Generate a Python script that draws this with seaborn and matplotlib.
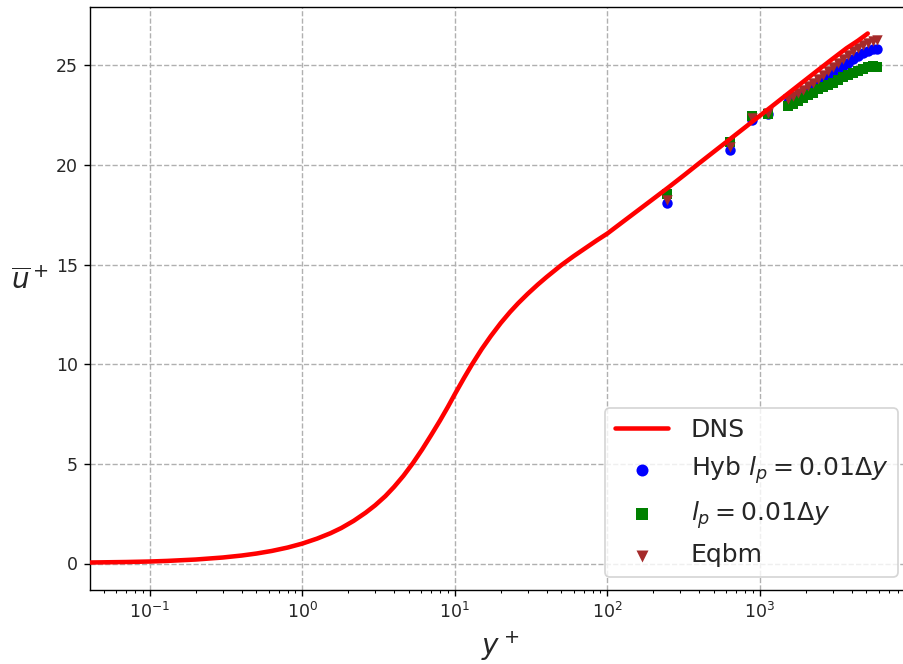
import numpy as np
import pandas as pd
import matplotlib
matplotlib.use("Agg")
import matplotlib.pyplot as plt
import seaborn as sns

# DNS mean velocity profile
dns_yplus = [0.0405, 0.07, 0.1, 0.13, 0.2, 0.3, 0.4, 0.5, 0.63, 0.8, 1.0, 1.25, 1.53,
             1.8, 2.17, 2.6, 3.0, 3.5, 4.0, 4.6, 5.3, 6.1, 7.0, 8.0, 9.0, 10.0, 11.5,
             13.0, 15.0, 17.2, 20.0, 23.0, 26.0, 30.0, 35.0, 40.0, 50.0, 60.0, 70.0,
             85.0, 100.0, 130.0, 160.0, 200.0, 250.0, 320.0, 400.0, 500.0, 640.0,
             800.0, 1000.0, 1500.0, 2000.0, 2500.0, 3000.0, 3700.0, 4400.0, 5100.0]
dns_uplus = [0.05, 0.075, 0.1, 0.13, 0.2, 0.3, 0.4, 0.5, 0.63, 0.8, 1.0, 1.25, 1.52,
             1.78, 2.14, 2.55, 2.92, 3.38, 3.85, 4.4, 5.03, 5.72, 6.45, 7.18, 7.86,
             8.5, 9.32, 10.01, 10.76, 11.41, 12.07, 12.62, 13.06, 13.53, 14.0, 14.38,
             14.98, 15.42, 15.77, 16.21, 16.56, 17.22, 17.74, 18.3, 18.86, 19.5,
             20.09, 20.67, 21.31, 21.89, 22.47, 23.53, 24.28, 24.86, 25.33, 25.86,
             26.24, 26.6]

# LES sample locations
les_yplus = [248, 640, 883, 1135, 1520, 1640, 1770, 1910, 2060, 2220, 2400, 2590,
             2790, 3010, 3250, 3510, 3780, 4080, 4400, 4750, 5120, 5520, 5870]
hyb_uplus = [18.09, 20.77, 22.24, 22.58, 23.15, 23.3, 23.45, 23.6, 23.8, 23.95,
             24.15, 24.3, 24.45, 24.6, 24.8, 24.95, 25.1, 25.3, 25.45, 25.6, 25.7,
             25.8, 25.82]
lp_uplus = [18.56, 21.15, 22.44, 22.58, 22.98, 23.05, 23.2, 23.35, 23.5, 23.6,
            23.8, 23.9, 24.0, 24.1, 24.25, 24.4, 24.5, 24.6, 24.72, 24.82, 24.9,
            24.95, 24.93]
eqbm_uplus = [18.22, 20.9, 22.38, 22.61, 23.3, 23.45, 23.6, 23.75, 23.95, 24.1,
              24.3, 24.5, 24.7, 24.9, 25.1, 25.3, 25.5, 25.7, 25.85, 26.0, 26.1,
              26.2, 26.25]

legend_labels = ["DNS", r"Hyb $l_p = 0.01\Delta y$", r"$l_p = 0.01\Delta y$", "Eqbm"]

sns.set_style("ticks")
plt.rcParams['font.family'] = ['DejaVu Sans']

fig = plt.figure(figsize=(903 / 125, 664 / 125), dpi=125)
ax = fig.add_axes([90 / 903, (664 - 590) / 664, (911 - 90) / 903, (590 - 7) / 664])

dns_df = pd.DataFrame({"y": dns_yplus, "u": dns_uplus})
les_df = pd.DataFrame({"y": les_yplus, "hyb": hyb_uplus, "lp": lp_uplus, "eq": eqbm_uplus})

sns.lineplot(data=dns_df, x="y", y="u", color="red", lw=2.6, label=legend_labels[0],
             sort=False, estimator=None, ax=ax, zorder=5)
sns.scatterplot(data=les_df, x="y", y="hyb", color="blue", marker="o", s=36,
                linewidth=0, label=legend_labels[1], ax=ax, zorder=2)
sns.scatterplot(data=les_df, x="y", y="lp", color="green", marker="s", s=36,
                linewidth=0, label=legend_labels[2], ax=ax, zorder=3)
sns.scatterplot(data=les_df, x="y", y="eq", color="brown", marker="v", s=36,
                linewidth=0, label=legend_labels[3], ax=ax, zorder=4)

ax.set_xscale("log")
ax.set_xlim(0.0405, 9800)
ax.set_ylim(-1.33, 27.93)
ax.set_yticks([0, 5, 10, 15, 20, 25])

ax.grid(True, which="major", linestyle="--", color="#b0b0b0", linewidth=0.8)
for s in ax.spines.values():
    s.set_color("black")
    s.set_linewidth(0.8)
ax.tick_params(which="both", direction="out", color="black", labelsize=10)

ax.set_xlabel(r"$y^+$", fontsize=16)
ax.set_ylabel(r"$\overline{u}^+$", fontsize=16, rotation=0)
ax.yaxis.set_label_coords(-0.073, 0.53)
ax.yaxis.label.set_ha("center")
ax.yaxis.label.set_va("center")

leg = ax.legend(loc="lower right", fontsize=14.5, scatterpoints=1, frameon=True,
                handlelength=2.1, handletextpad=0.9, markerscale=1.15)

fig.savefig("out.png", dpi=125)
